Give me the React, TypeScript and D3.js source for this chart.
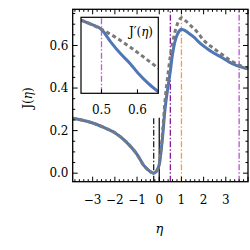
import React, { useRef, useEffect } from "react";
import * as d3 from "d3";

// main curve J(eta): full model (blue) and approximation (grey, dashed)
const etaFull = [-3.9, -3.5, -3, -2.5, -2, -1.5, -1, -0.7, -0.5, -0.35, -0.27, -0.15, 0, 0.15, 0.26, 0.4, 0.5, 0.6, 0.7, 0.8, 0.9, 1.0, 1.1, 1.3, 1.55, 1.85, 2.15, 2.4, 2.8, 3.14, 3.5, 4.0];
const jFull = [0.258, 0.25, 0.236, 0.215, 0.19, 0.148, 0.088, 0.037, 0.016, 0.004, 0.0, 0.006, 0.04, 0.17, 0.3, 0.41, 0.48, 0.56, 0.615, 0.648, 0.668, 0.676, 0.673, 0.66, 0.64, 0.61, 0.586, 0.568, 0.545, 0.523, 0.505, 0.49];

const etaApprox = [-3.9, -3.5, -3, -2.5, -2, -1.5, -1, -0.7, -0.5, -0.35, -0.27, -0.15, 0, 0.15, 0.26, 0.4, 0.5, 0.6, 0.75, 0.9, 1.0, 1.1, 1.2, 1.4, 1.7, 2.0, 2.4, 2.8, 3.2, 3.6, 4.0];
const jApprox = [0.258, 0.25, 0.236, 0.215, 0.19, 0.148, 0.088, 0.037, 0.016, 0.004, 0.0, 0.006, 0.04, 0.19, 0.34, 0.47, 0.55, 0.61, 0.68, 0.72, 0.73, 0.724, 0.715, 0.695, 0.665, 0.625, 0.59, 0.56, 0.53, 0.508, 0.49];

// inset: J'(eta) near eta = 0.5 (arbitrary units)
const insetEtaFull = [0.443, 0.47, 0.5, 0.525, 0.552, 0.58, 0.602, 0.63, 0.658];
const insetFull = [0.964, 0.91, 0.842, 0.68, 0.526, 0.39, 0.263, 0.13, 0.021];
const insetEtaApprox = [0.443, 0.47, 0.5, 0.658];
const insetApprox = [0.964, 0.91, 0.842, 0.329];

const xTicks = [-3, -2, -1, 0, 1, 2, 3];
const yTicks = [0.0, 0.2, 0.4, 0.6];
const insetTicks = [0.5, 0.6];

// vertical markers: [eta, top (null = full height), colour, dash]
const markers: [number, number | null, string, string][] = [
  [-0.25, 0.26, "#222", "6,2,1.5,2"],
  [0, 0.26, "#111", ""],
  [0.5, null, "#8a1a9a", "6,2,1.5,2"],
  [1.0, null, "#f5a030", "6,2,1.5,2"],
  [3.6, null, "#b456c8", "6,2,1.5,2"],
];

const BLUE = "#4f76b6";
const GREY = "#7a7a7a";
const FONT = "DejaVu Serif";

const App = () => {
  const ref = useRef<SVGSVGElement>(null);

  useEffect(() => {
    const svg = d3.select(ref.current);
    svg.selectAll("*").remove();

    const L = 72.7, R = 248, T = 9.3, B = 181.7;
    const x = d3.scaleLinear().domain([-3.9, 4.0]).range([L, R]);
    const y = d3.scaleLinear().domain([-0.04, 0.77]).range([B, T]);

    const g = svg.append("g");

    // markers
    markers.forEach(([e, top, col, dash]) => {
      g.append("line")
        .attr("x1", x(e)).attr("x2", x(e))
        .attr("y1", B).attr("y2", top === null ? T : y(top))
        .attr("stroke", col)
        .attr("stroke-width", 1.3)
        .attr("stroke-dasharray", dash || null);
    });

    const lineFull = d3.line<number>()
      .x((_, i) => x(etaFull[i]))
      .y((d) => y(d))
      .curve(d3.curveMonotoneX);
    const lineApprox = d3.line<number>()
      .x((_, i) => x(etaApprox[i]))
      .y((d) => y(d))
      .curve(d3.curveMonotoneX);

    g.append("path").datum(jFull).attr("d", lineFull)
      .attr("fill", "none").attr("stroke", BLUE).attr("stroke-width", 3);
    g.append("path").datum(jApprox).attr("d", lineApprox)
      .attr("fill", "none").attr("stroke", GREY).attr("stroke-width", 3)
      .attr("stroke-dasharray", "4,3");

    // frame and ticks on all sides
    g.append("rect").attr("x", L).attr("y", T).attr("width", R - L).attr("height", B - T)
      .attr("fill", "none").attr("stroke", "#000").attr("stroke-width", 1.3);

    const xMinor = d3.range(-3.8, 4.001, 0.2).map((v) => +v.toFixed(2));
    const yMinor = d3.range(-0.0, 0.77, 0.05).map((v) => +v.toFixed(2));
    xMinor.forEach((v) => {
      const major = Math.abs(v - Math.round(v)) < 1e-6;
      const len = major ? 5 : 2.5;
      g.append("line").attr("x1", x(v)).attr("x2", x(v)).attr("y1", B).attr("y2", B - len).attr("stroke", "#000").attr("stroke-width", 1);
      g.append("line").attr("x1", x(v)).attr("x2", x(v)).attr("y1", T).attr("y2", T + len).attr("stroke", "#000").attr("stroke-width", 1);
    });
    yMinor.forEach((v) => {
      const major = Math.abs(v * 5 - Math.round(v * 5)) < 1e-6;
      const len = major ? 5 : 2.5;
      g.append("line").attr("x1", L).attr("x2", L + len).attr("y1", y(v)).attr("y2", y(v)).attr("stroke", "#000").attr("stroke-width", 1);
      g.append("line").attr("x1", R).attr("x2", R - len).attr("y1", y(v)).attr("y2", y(v)).attr("stroke", "#000").attr("stroke-width", 1);
    });

    xTicks.forEach((v) => {
      g.append("text").attr("x", x(v)).attr("y", 204)
        .attr("text-anchor", "middle").attr("font-family", FONT).attr("font-size", 12)
        .text(v < 0 ? `\u2212${-v}` : `${v}`);
    });
    yTicks.forEach((v) => {
      g.append("text").attr("x", 68.5).attr("y", y(v) + 4.3)
        .attr("text-anchor", "end").attr("font-family", FONT).attr("font-size", 12)
        .text(v.toFixed(1));
    });

    g.append("text").attr("transform", "translate(32,98) rotate(-90)")
      .attr("text-anchor", "middle").attr("font-family", FONT).attr("font-size", 12)
      .text("J(")
      .append("tspan").attr("font-style", "italic").text("\u03b7")
      .select(function () { return this.parentNode as any; })
      .append("tspan").text(")");

    g.append("text").attr("x", 159.3).attr("y", 233)
      .attr("text-anchor", "middle").attr("font-family", FONT).attr("font-size", 13)
      .attr("font-style", "italic").text("\u03b7");

    // inset
    const iL = 81, iR = 158.3, iT = 17.3, iB = 93.3;
    const ix = d3.scaleLinear().domain([0.443, 0.658]).range([iL, iR]);
    const iy = d3.scaleLinear().domain([0, 1]).range([iB, iT]);
    const ig = svg.append("g");
    ig.append("rect").attr("x", iL).attr("y", iT).attr("width", iR - iL).attr("height", iB - iT)
      .attr("fill", "#fff");
    ig.append("line").attr("x1", ix(0.5)).attr("x2", ix(0.5)).attr("y1", iB).attr("y2", iT)
      .attr("stroke", "#c05cc8").attr("stroke-width", 1.3).attr("stroke-dasharray", "6,2,1.5,2");

    const insetLineFull = d3.line<number>()
      .x((_, i) => ix(insetEtaFull[i])).y((d) => iy(d)).curve(d3.curveMonotoneX);
    const insetLineApprox = d3.line<number>()
      .x((_, i) => ix(insetEtaApprox[i])).y((d) => iy(d)).curve(d3.curveMonotoneX);
    const clip = ig.append("clipPath").attr("id", "inset-clip");
    clip.append("rect").attr("x", iL).attr("y", iT).attr("width", iR - iL).attr("height", iB - iT);
    const ic = ig.append("g").attr("clip-path", "url(#inset-clip)");
    ic.append("path").datum(insetFull).attr("d", insetLineFull)
      .attr("fill", "none").attr("stroke", BLUE).attr("stroke-width", 3);
    ic.append("path").datum(insetApprox).attr("d", insetLineApprox)
      .attr("fill", "none").attr("stroke", GREY).attr("stroke-width", 3).attr("stroke-dasharray", "4,3");

    ig.append("rect").attr("x", iL).attr("y", iT).attr("width", iR - iL).attr("height", iB - iT)
      .attr("fill", "none").attr("stroke", "#000").attr("stroke-width", 1.2);
    insetTicks.forEach((v) => {
      ig.append("line").attr("x1", ix(v)).attr("x2", ix(v)).attr("y1", iB).attr("y2", iB - 4).attr("stroke", "#000");
      ig.append("text").attr("x", ix(v)).attr("y", 114)
        .attr("text-anchor", "middle").attr("font-family", FONT).attr("font-size", 12)
        .text(v.toFixed(1));
    });
    const il = ig.append("text").attr("x", 141).attr("y", 36)
      .attr("text-anchor", "middle").attr("font-family", FONT).attr("font-size", 12);
    il.append("tspan").text("J\u2032(");
    il.append("tspan").attr("font-style", "italic").text("\u03b7");
    il.append("tspan").text(")");
  }, []);

  return (
    <svg ref={ref} width={250} height={250}
      style={{ position: "absolute", left: 0, top: 0, background: "#fff" }} />
  );
};

export default App;
